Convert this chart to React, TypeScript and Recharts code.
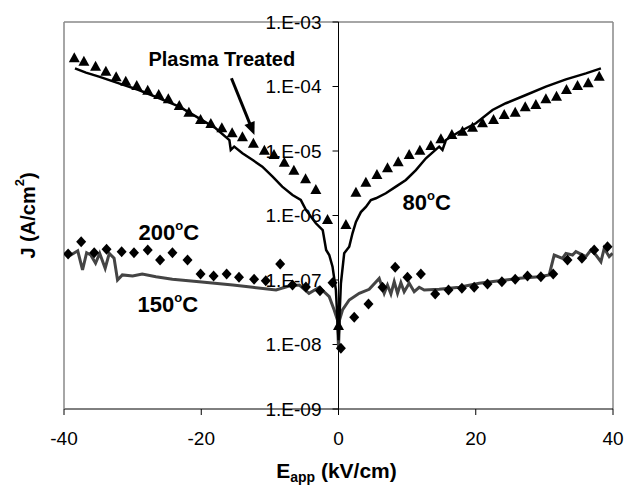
import React from 'react';
import { ComposedChart, Line, Scatter, XAxis, YAxis, ReferenceLine, ReferenceDot } from 'recharts';

const FONT = 'Arial, "Liberation Sans", Helvetica, sans-serif';

// Plasma treated (triangles)
const triX = [-38.5, -37.1, -35.4, -33.9, -32.4, -31.0, -29.4, -27.8, -26.2, -24.8, -23.2, -21.8, -20.1, -18.6, -17.0, -15.5, -14.0, -12.4, -10.8, -9.4, -7.9, -6.5, -4.8, -3.3, -1.6, 0, 1.08, 2.54, 3.99, 5.6, 7.14, 8.7, 10.3, 11.86, 13.46, 14.92, 16.52, 18.07, 19.53, 20.98, 22.59, 24.15, 25.75, 27.21, 28.76, 30.22, 31.77, 33.22, 34.83, 36.39, 37.99];
const triJ = [2.74e-4, 2.42e-4, 2.03e-4, 1.69e-4, 1.39e-4, 1.19e-4, 1.02e-4, 8.61e-5, 7.38e-5, 6.34e-5, 4.99e-5, 3.93e-5, 3.03e-5, 2.62e-5, 2.25e-5, 1.88e-5, 1.63e-5, 1.29e-5, 1.01e-5, 8.67e-6, 6.59e-6, 4.95e-6, 3.64e-6, 2.48e-6, 8.51e-7, 1.94e-8, 7.13e-7, 2.25e-6, 3.23e-6, 4.25e-6, 5.40e-6, 6.68e-6, 8.67e-6, 1.01e-5, 1.20e-5, 1.52e-5, 1.77e-5, 1.99e-5, 2.30e-5, 2.69e-5, 3.03e-5, 3.61e-5, 3.93e-5, 4.76e-5, 5.16e-5, 6.34e-5, 6.95e-5, 8.83e-5, 1.02e-4, 1.12e-4, 1.42e-4];

// 80 C (black line)
const l80X = [-38.4, -36.8, -34.9, -32.0, -29.1, -26.1, -23.2, -20.3, -17.9, -15.9, -15.7, -15.2, -14.0, -12.5, -11.1, -9.6, -8.2, -6.7, -5.5, -4.75, -3.3, -2.3, -1.8, -1.35, -0.87, -0.38, 0, 0.35, 0.83, 1.56, 2.04, 2.54, 3.26, 3.99, 4.72, 5.45, 6.9, 8.36, 9.82, 11.28, 12.74, 14.67, 15.15, 15.65, 17.59, 20.02, 22.44, 24.39, 27.31, 30.22, 33.14, 36.05, 38.24];
const l80J = [1.91e-4, 1.64e-4, 1.42e-4, 1.12e-4, 8.83e-5, 6.56e-5, 4.86e-5, 3.21e-5, 2.25e-5, 1.48e-5, 1.04e-5, 1.17e-5, 9.20e-6, 7.24e-6, 5.71e-6, 4.00e-6, 2.80e-6, 2.08e-6, 1.74e-6, 1.22e-6, 7.57e-7, 5.96e-7, 2.92e-7, 2.44e-7, 1.61e-7, 7.00e-8, 1.17e-8, 8.89e-8, 2.59e-7, 3.28e-7, 5.30e-7, 7.93e-7, 1.13e-6, 1.36e-6, 1.74e-6, 1.85e-6, 2.21e-6, 2.80e-6, 3.55e-6, 5.07e-6, 7.71e-6, 1.17e-5, 1.04e-5, 1.48e-5, 1.99e-5, 2.69e-5, 4.33e-5, 5.50e-5, 7.38e-5, 9.93e-5, 1.29e-4, 1.60e-4, 1.91e-4];

// 200 C (diamonds)
const d200X = [-39.4, -37.5, -35.6, -33.8, -31.6, -29.8, -27.8, -26.0, -24.2, -22.0, -20.1, -18.2, -16.3, -14.5, -12.3, -10.6, -8.5, -6.7, -4.75, -2.7, -0.87, 0.35, 2.29, 4.37, 6.41, 8.26, 10.05, 12.0, 14.09, 16.03, 17.98, 19.77, 21.71, 23.81, 25.75, 27.54, 29.49, 31.29, 33.37, 35.47, 37.26, 39.2];
const d200J = [2.53e-7, 3.93e-7, 2.65e-7, 2.99e-7, 2.75e-7, 2.65e-7, 2.92e-7, 2.04e-7, 2.65e-7, 2.04e-7, 1.24e-7, 1.15e-7, 1.24e-7, 1.10e-7, 1.03e-7, 9.75e-8, 1.77e-7, 8.36e-8, 7.78e-8, 6.82e-8, 9.08e-8, 8.73e-9, 2.64e-8, 4.25e-8, 7.71e-8, 1.57e-7, 1.10e-7, 1.24e-7, 6.07e-8, 7.00e-8, 7.43e-8, 7.71e-8, 8.67e-8, 9.42e-8, 1.03e-7, 1.15e-7, 1.12e-7, 1.24e-7, 2.04e-7, 2.17e-7, 2.92e-7, 3.28e-7];

// 150 C (gray line)
const g150X = [-40.0, -39.0, -38.0, -37.3, -36.7, -36.1, -35.4, -34.8, -34.0, -33.4, -32.7, -32.2, -31.5, -30.0, -28.6, -26.6, -24.2, -20.3, -15.4, -12.5, -9.1, -7.2, -5.7, -4.3, -2.8, -1.35, -0.63, -0.15, 0, 0.15, 0.58, 1.56, 3.02, 4.47, 5.93, 6.66, 7.14, 7.64, 8.12, 8.6, 9.09, 9.57, 10.3, 11.03, 11.76, 12.49, 14.67, 17.59, 20.5, 23.42, 26.33, 29.25, 30.7, 31.43, 32.64, 33.14, 34.1, 34.59, 36.05, 36.78, 37.51, 38.24, 38.72, 39.45, 39.93];
const g150J = [2.59e-7, 2.44e-7, 2.84e-7, 1.43e-7, 2.65e-7, 2.44e-7, 1.82e-7, 2.59e-7, 1.52e-7, 2.59e-7, 2.17e-7, 1.00e-7, 1.20e-7, 1.15e-7, 1.24e-7, 1.12e-7, 1.03e-7, 9.42e-8, 8.36e-8, 7.71e-8, 7.00e-8, 8.07e-8, 8.36e-8, 6.22e-8, 7.71e-8, 5.51e-8, 3.43e-8, 2.40e-8, 8.9e-9, 2.40e-8, 3.43e-8, 4.90e-8, 6.22e-8, 7.18e-8, 1.06e-7, 6.22e-8, 8.36e-8, 6.07e-8, 9.42e-8, 6.22e-8, 9.08e-8, 6.59e-8, 8.89e-8, 6.59e-8, 7.71e-8, 7.00e-8, 7.18e-8, 7.71e-8, 8.89e-8, 9.75e-8, 1.06e-7, 1.12e-7, 1.20e-7, 2.44e-7, 2.17e-7, 2.59e-7, 2.44e-7, 2.75e-7, 2.30e-7, 2.92e-7, 2.44e-7, 1.92e-7, 3.10e-7, 2.30e-7, 2.59e-7];

const xTicks = [-40, -20, 0, 20, 40];
const yTicks = [1e-9, 1e-8, 1e-7, 1e-6, 1e-5, 1e-4, 1e-3];
const yTickLabels = ['1.E-09', '1.E-08', '1.E-07', '1.E-06', '1.E-05', '1.E-04', '1.E-03'];

const zip = (xs: number[], js: number[]) => xs.map((x, i) => ({ x, j: js[i] }));
const triData = zip(triX, triJ);
const l80Data = zip(l80X, l80J);
const d200Data = zip(d200X, d200J);
const g150Data = zip(g150X, g150J);

const Triangle = (p: any) => {
  const { cx, cy } = p;
  if (cx == null || cy == null) return null;
  return <polygon points={`${cx},${cy - 6} ${cx - 5.5},${cy + 4} ${cx + 5.5},${cy + 4}`} fill="#000" />;
};
const Diamond = (p: any) => {
  const { cx, cy } = p;
  if (cx == null || cy == null) return null;
  return <polygon points={`${cx},${cy - 5.5} ${cx + 5},${cy} ${cx},${cy + 5.5} ${cx - 5},${cy}`} fill="#000" />;
};

const Arrow = (p: any) => {
  const { x1, y1, x2, y2 } = p;
  if ([x1, y1, x2, y2].some((v) => v == null || isNaN(v))) return null;
  const dx = x2 - x1, dy = y2 - y1;
  const len = Math.sqrt(dx * dx + dy * dy);
  const ux = dx / len, uy = dy / len;
  const hl = 13, hw = 5.5;
  const bx = x2 - ux * hl, by = y2 - uy * hl;
  return (
    <g>
      <line x1={x1} y1={y1} x2={bx + ux * 2} y2={by + uy * 2} stroke="#000" strokeWidth={3} />
      <polygon points={`${x2},${y2} ${bx - uy * hw},${by + ux * hw} ${bx + uy * hw},${by - ux * hw}`} fill="#000" />
    </g>
  );
};

const tempLabel = (num: string) => (props: any) => {
  const { x, y } = props.viewBox;
  return (
    <text x={x} y={y} fontFamily={FONT} fontWeight="bold" fontSize={22} fill="#000">
      <tspan>{num}</tspan>
      <tspan fontSize={13} dy={-10}>o</tspan>
      <tspan dy={10}>C</tspan>
    </text>
  );
};

const plasmaLabel = (props: any) => {
  const { x, y } = props.viewBox;
  return (
    <text x={x} y={y} textAnchor="middle" fontFamily={FONT} fontWeight="bold" fontSize={20} fill="#000">
      Plasma Treated
    </text>
  );
};

const XTitle = (props: any) => {
  const { x, width } = props.viewBox;
  return (
    <text x={x + width / 2 - 2} y={478} textAnchor="middle" fontFamily={FONT} fontWeight="bold" fontSize={21} fill="#000">
      <tspan>E</tspan>
      <tspan fontSize={14} dy={4}>app</tspan>
      <tspan dy={-4}> (kV/cm)</tspan>
    </text>
  );
};

const YTitle = (props: any) => {
  const { y, height } = props.viewBox;
  const cx = 28;
  const cy = y + height / 2;
  return (
    <text x={cx} y={cy} transform={`rotate(-90 ${cx} ${cy})`} textAnchor="middle" dominantBaseline="central" fontFamily={FONT} fontWeight="bold" fontSize={20} fill="#000">
      <tspan>J (A/cm</tspan>
      <tspan fontSize={13} dy={-9}>2</tspan>
      <tspan dy={9}>)</tspan>
    </text>
  );
};

function XTitleWrap(props: any) {
  return <XTitle {...props} />;
}
function YTitleWrap(props: any) {
  return <YTitle {...props} />;
}

export default function App() {
  return (
    <div style={{ position: 'absolute', left: 0, top: 0, width: 625, height: 486, background: '#fff' }}>
      <ComposedChart width={625} height={486} margin={{ top: 22, right: 12, left: 0, bottom: 0 }}>
        <XAxis
          type="number"
          dataKey="x"
          domain={[-40, 40]}
          ticks={xTicks}
          allowDataOverflow
          height={77}
          axisLine={{ stroke: '#000', strokeWidth: 1 }}
          tickLine={{ stroke: '#000' }}
          tickSize={6}
          tickMargin={17}
          tick={{ fontSize: 19, fill: '#000', fontFamily: FONT }}
          label={<XTitleWrap />}
        />
        <YAxis
          type="number"
          dataKey="j"
          scale="log"
          domain={[1e-9, 1e-3]}
          ticks={yTicks}
          allowDataOverflow
          width={64}
          tick={false}
          tickLine={false}
          axisLine={{ stroke: '#888', strokeWidth: 1.5 }}
          label={<YTitleWrap />}
        />
        <ReferenceLine x={40} stroke="#888" strokeWidth={1.5} />
        <ReferenceLine y={1e-3} stroke="#888" strokeWidth={1.5} />
        <ReferenceLine x={0} stroke="#000" strokeWidth={1} />
        {yTicks.map((v) => (
          <ReferenceLine key={'t' + v} segment={[{ x: -0.87, y: v }, { x: 0, y: v }]} stroke="#000" strokeWidth={1} />
        ))}
        {yTicks.map((v, i) => (
          <ReferenceDot
            key={'l' + v}
            x={0}
            y={v}
            r={0}
            stroke="none"
            fill="none"
            label={{ value: yTickLabels[i], position: 'left', offset: 17, fontSize: 19, fill: '#000', fontFamily: FONT }}
          />
        ))}
        <Line data={g150Data} dataKey="j" type="linear" stroke="#444" strokeWidth={3} dot={false} isAnimationActive={false} />
        <Line data={l80Data} dataKey="j" type="linear" stroke="#000" strokeWidth={2.5} dot={false} isAnimationActive={false} />
        <Scatter data={d200Data} dataKey="j" shape={<Diamond />} isAnimationActive={false} />
        <Scatter data={triData} dataKey="j" shape={<Triangle />} isAnimationActive={false} />
        <ReferenceLine segment={[{ x: -15.6, y: 1.34e-4 }, { x: -12.25, y: 1.77e-5 }]} shape={<Arrow />} />
        <ReferenceDot x={-17.0} y={2.08e-4} r={0} stroke="none" fill="none" label={plasmaLabel} />
        <ReferenceDot x={9.33} y={1.22e-6} r={0} stroke="none" fill="none" label={tempLabel('80')} />
        <ReferenceDot x={-29.14} y={4.17e-7} r={0} stroke="none" fill="none" label={tempLabel('200')} />
        <ReferenceDot x={-29.29} y={3.23e-8} r={0} stroke="none" fill="none" label={tempLabel('150')} />
      </ComposedChart>
    </div>
  );
}
